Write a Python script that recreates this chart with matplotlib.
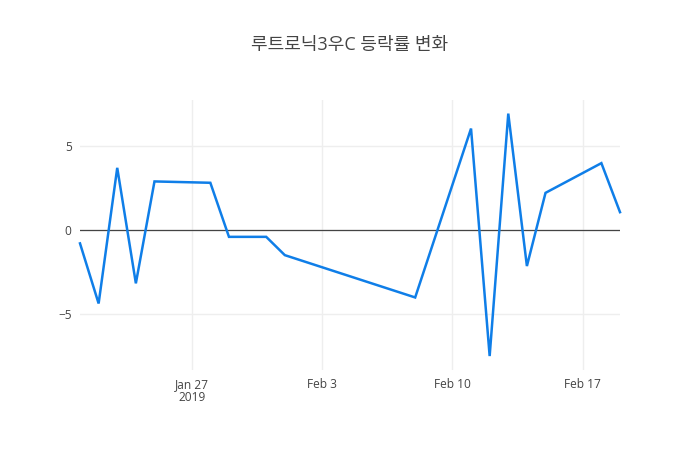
import matplotlib
matplotlib.use("Agg")
import matplotlib.pyplot as plt
import datetime as dt

title = "루트로닉3우C 등락률 변화"
dates = ["2019-01-21", "2019-01-22", "2019-01-23", "2019-01-24", "2019-01-25",
         "2019-01-28", "2019-01-29", "2019-01-31", "2019-02-01", "2019-02-08",
         "2019-02-11", "2019-02-12", "2019-02-13", "2019-02-14", "2019-02-15",
         "2019-02-18", "2019-02-19"]
values = [-0.79, -4.37, 3.71, -3.17, 2.90,
          2.82, -0.40, -0.40, -1.49, -4.01,
          6.05, -7.50, 6.94, -2.14, 2.22,
          3.99, 1.07]
tick_dates = ["2019-01-27", "2019-02-03", "2019-02-10", "2019-02-17"]
tick_labels = ["Jan 27\n2019", "Feb 3", "Feb 10", "Feb 17"]
y_ticks = [-5, 0, 5]
y_tick_labels = ["−5", "0", "5"]

plt.rcParams['font.family'] = ['Open Sans', 'Noto Sans CJK KR', 'DejaVu Sans']

x = [dt.datetime.strptime(d, "%Y-%m-%d") for d in dates]
xt = [dt.datetime.strptime(d, "%Y-%m-%d") for d in tick_dates]

fig = plt.figure(figsize=(7, 4.5), dpi=100)
ax = fig.add_axes([80/700, 80/450, 540/700, 270/450])

ax.plot(x, values, color='#0f7ee8', linewidth=1.8, solid_joinstyle='miter', zorder=3, clip_on=False)
ax.axhline(0, color='#444444', linewidth=0.9, zorder=2)

ax.set_xlim(x[0], x[-1])
ax.set_ylim(-8.33, 7.75)
ax.set_xticks(xt)
ax.set_xticklabels(tick_labels, fontsize=8.6, color='#444444', linespacing=1.0)
ax.set_yticks(y_ticks)
ax.set_yticklabels(y_tick_labels, fontsize=8.6, color='#444444')

ax.grid(True, color='#eeeeee', linewidth=1, zorder=0)
for s in ax.spines.values():
    s.set_visible(False)
ax.tick_params(length=0, pad=6)

fig.text(0.5, 1 - 45/450, title, ha='center', va='center', fontsize=13, color='#444444')

fig.savefig("out.png", dpi=100, facecolor='white')
